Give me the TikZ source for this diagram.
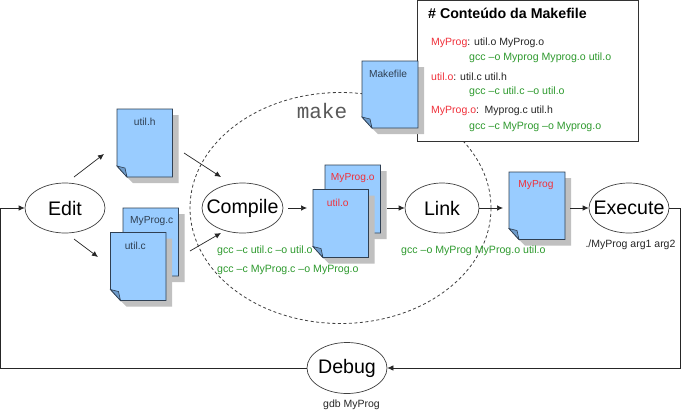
\documentclass[tikz,border=0pt]{standalone}
\usepackage{fontspec}
\setmainfont{Liberation Sans}
\newfontfamily\mkfont{Liberation Mono}
\usetikzlibrary{arrows.meta,shapes.geometric}
\definecolor{docblue}{HTML}{99CCFF}
\definecolor{foldblue}{HTML}{6E9CCB}
\definecolor{docedge}{HTML}{2F3F52}
\definecolor{docshadow}{HTML}{C0C0C0}
\definecolor{redtxt}{HTML}{F0303A}
\definecolor{greentxt}{HTML}{2E9A2E}
\definecolor{ringgray}{HTML}{404040}
\tikzset{
  stage/.style={draw=ringgray,line width=0.7pt,fill=white,ellipse,inner sep=0pt},
  stagetext/.style={font=\fontsize{19.6}{21}\selectfont,text=black,inner sep=0pt},
  flow/.style={draw=black!85,line width=0.7pt,-{Latex[length=6pt,width=5.5pt]}},
  doclabel/.style={font=\fontsize{10.2}{12}\selectfont,text=docedge,inner sep=0pt},
  redlabel/.style={font=\fontsize{10.2}{12}\selectfont,text=redtxt,inner sep=0pt},
  cmdgreen/.style={font=\fontsize{10.6}{12}\selectfont,text=greentxt,inner sep=0pt,anchor=west},
  cmdblack/.style={font=\fontsize{10.5}{12}\selectfont,text=black!85,inner sep=0pt},
  mkline/.style={font=\fontsize{10.5}{12}\selectfont,text=black!85,inner sep=0pt,anchor=west},
}
\newcommand{\docsheet}[7]{%
  % name, x0, y0, w, h, label x offset, label style
  \fill[docshadow] (#2+6,#3+6) -- (#2+#4+6,#3+6) -- (#2+#4+6,#3+#5+6) -- (#2+16,#3+#5+6) -- (#2+6,#3+#5-4) -- cycle;
  \filldraw[fill=docblue,draw=docedge,line width=0.9pt] (#2,#3) -- (#2+#4,#3) -- (#2+#4,#3+#5) -- (#2+10,#3+#5) -- (#2,#3+#5-11) -- cycle;
  \filldraw[fill=foldblue,draw=docedge,line width=0.6pt] (#2,#3+#5-11) -- (#2+8,#3+#5-9) -- (#2+10,#3+#5) -- cycle;
  \node[#7] (#1) at (#2+#4/2+#6,#3+13) {#1};%
}
\begin{document}
\begin{tikzpicture}[x=1pt,y=-1pt]
\useasboundingbox (0,0) rectangle (681,413);
\fill[white] (0,0) rectangle (681,413);

% make boundary
\node[draw=black!75,line width=0.8pt,ellipse,minimum width=301pt,minimum height=231pt,inner sep=0pt,dash pattern=on 3pt off 2.5pt] (makezone) at (340.5,208) {};
\node[font=\mkfont\fontsize{21}{22}\selectfont,text=black!65,inner sep=0pt] (maketitle) at (322,111) {make};

% Makefile contents box
\node[draw=black!80,fill=white,line width=0.9pt,minimum width=221pt,minimum height=141pt,inner sep=0pt,anchor=north west] (mkbox) at (417,-0.5) {};
\node[font=\bfseries\fontsize{14.2}{15}\selectfont,inner sep=0pt,anchor=west] (mktitle) at (428,13) {\# Conteúdo da Makefile};
\node[mkline] (m1) at (431,43) {\textcolor{redtxt}{MyProg}: util.o MyProg.o};
\node[cmdgreen] (m2) at (469,58) {gcc –o Myprog Myprog.o util.o};
\node[mkline] (m3) at (431,77) {\textcolor{redtxt}{util.o}: util.c util.h};
\node[cmdgreen] (m4) at (469,92) {gcc –c util.c –o util.o};
\node[mkline] (m5) at (431,111) {\textcolor{redtxt}{MyProg.o}: \,Myprog.c util.h};
\node[cmdgreen] (m6) at (469,127) {gcc –c MyProg –o Myprog.o};

% documents
\docsheet{Makefile}{362}{61}{56}{67}{-2}{doclabel}
\docsheet{util.h}{117}{109}{55.5}{68}{0}{doclabel}
\docsheet{MyProg.c}{123}{208}{55.5}{68}{1}{doclabel}
\docsheet{util.c}{110.5}{232.5}{55.5}{68}{-3}{doclabel}
\docsheet{MyProg.o}{325}{165}{55.5}{68}{0}{redlabel}
\docsheet{util.o}{313}{189.5}{55.5}{68}{-3}{redlabel}
\docsheet{MyProg}{509}{172}{56}{67.5}{-1}{redlabel}

% stages
\node[stage,minimum width=80pt,minimum height=50pt] (edit) at (65,208) {};
\node[stagetext] (edittext) at (65,208) {Edit};
\node[stage,minimum width=81pt,minimum height=50pt] (compile) at (242.5,208) {};
\node[stagetext] (compiletext) at (242.5,208) {Compile};
\node[stage,minimum width=74pt,minimum height=50pt] (link) at (442,208) {};
\node[stagetext] (linktext) at (442,208) {Link};
\node[stage,minimum width=80pt,minimum height=50pt] (execute) at (629,208) {};
\node[stagetext] (executetext) at (629,208) {Execute};
\node[stage,minimum width=80pt,minimum height=51pt] (debug) at (347,368) {};
\node[stagetext] (debugtext) at (347,368) {Debug};

% free connector ends
\coordinate (a1s) at (74,177); \coordinate (a1e) at (104,154);
\coordinate (a2s) at (74,239); \coordinate (a2e) at (98,257);
\coordinate (a3s) at (184,153); \coordinate (a3e) at (221,177);
\coordinate (a4s) at (190,251); \coordinate (a4e) at (221,233);
\coordinate (a5s) at (288,208); \coordinate (a5e) at (307,208);
\coordinate (a6s) at (387,208);
\coordinate (a7e) at (503,208);
\coordinate (a8s) at (570,208);
\coordinate (ne) at (680,208); \coordinate (se) at (680,368);
\coordinate (nw) at (0.5,208); \coordinate (sw) at (0.5,368);

\draw[flow] (a1s) -- (a1e);
\draw[flow] (a2s) -- (a2e);
\draw[flow] (a3s) -- (a3e);
\draw[flow] (a4s) -- (a4e);
\draw[flow] (a5s) -- (a5e);
\draw[flow] (a6s) -- (link.west);
\draw[flow] (link.east) -- (a7e);
\draw[flow] (a8s) -- (execute.west);
\draw[flow] (execute.east) -- (ne) -- (se) -- (debug.east);
\draw[flow] (debug.west) -- (sw) -- (nw) -- (edit.west);

% command captions
\node[cmdgreen] (c1) at (217,251) {gcc –c util.c –o util.o};
\node[cmdgreen] (c2) at (217,270) {gcc –c MyProg.c –o MyProg.o};
\node[cmdgreen] (c3) at (401,251) {gcc –o MyProg MyProg.o util.o};
\node[cmdblack] (c4) at (630.5,245) {./MyProg arg1 arg2};
\node[cmdblack] (c5) at (351.5,405) {gdb MyProg};
\end{tikzpicture}
\end{document}
